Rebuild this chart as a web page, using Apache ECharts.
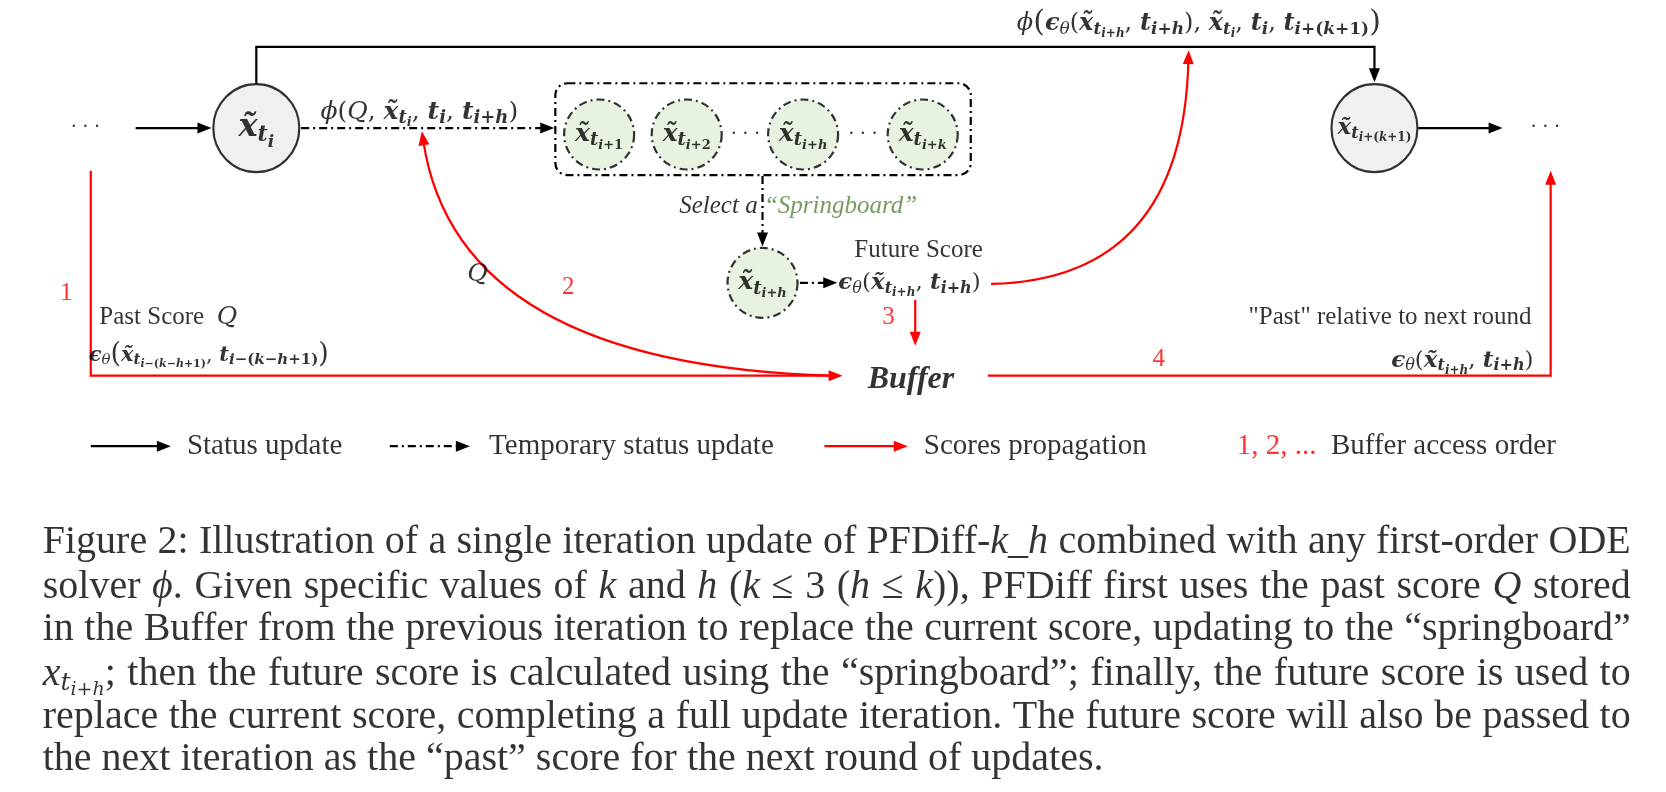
<!DOCTYPE html>
<html>
<head>
<meta charset="utf-8">
<title>PFDiff figure 2</title>
<script src="https://cdn.jsdelivr.net/npm/echarts@6/dist/echarts.min.js"></script>
<style>
html, body { margin: 0; padding: 0; background: #fff; }
#box { width: 1666px; height: 792px; }
</style>
</head>
<body>
<div id="box"></div>
<script>
// figure units: x 0-1560, y 0-742 from the top, stretched over the whole page

// nodes [x, y, label]
var stateNodes = [[240, 120, 'xti'], [1287, 120, 'xtk1']];
var tempNodes = [[561, 126, 'xt1'], [643, 126, 'xt2'], [752, 126, 'xth'], [864, 126, 'xtk']];
var springNodes = [[714, 265, 'xth']];
var tempBox = [[520, 78, 909, 164]];

// arrows, as point lists
var statusLinks = [
	[[127, 120], [198, 120]],
	[[240, 79], [240, 44], [1287, 44], [1287, 77]],
	[[1328, 120], [1407, 120]],
	[[85, 418], [160, 418]]
];
var tempLinks = [
	[[282, 120], [519, 120]],
	[[714, 165], [714, 231]],
	[[749, 265], [784, 265]],
	[[365, 418], [440, 418]]
];
var scoreLinks = [
	[[85, 160], [85, 352], [789, 352]],
	[[857, 281], [857, 324]],
	[[925, 352], [1452, 352], [1452, 160]],
	[[772, 418], [850, 418]]
];
// curved score arrows: start, control, end
var scoreCurves = [
	[[928, 266], [1108, 262], [1113, 47]],
	[[780, 352], [428, 342], [395, 123]]
];

// texts [x, y, key]
var leftNotes = [
	[300, 105, 'phiQ'],
	[636, 193, 'select'],
	[800, 235, 'future'],
	[785, 265, 'epsH'],
	[93, 297, 'past'],
	[83, 333, 'epsPast'],
	[175, 418, 'lgStatus'],
	[458, 418, 'lgTemp'],
	[865, 418, 'lgScore'],
	[1158, 418, 'lgOrder']
];
var rightNotes = [
	[1293, 22, 'phiTop'],
	[1434, 297, 'pastNext'],
	[1436, 338, 'epsH2']
];
var midNotes = [
	[80, 120, 'dots'], [698, 126, 'dots'], [808, 126, 'dots'], [1447, 120, 'dots'],
	[853, 356, 'buffer'], [447, 257, 'Q'],
	[62, 275, 'n1'], [532, 269, 'n2'], [832, 297, 'n3'], [1085, 337, 'n4']
];
var captionLines = [[40, 508, 'c1'], [40, 550, 'c2'], [40, 590, 'c3'], [40, 632, 'c4'], [40, 672, 'c5'], [40, 712, 'c6']];
var captionWidth = 1588;

var SERIF = '"Liberation Serif", "DejaVu Serif", serif';
var MATH = '"DejaVu Serif", serif';
var RED = '#ff0000';
var DASHDOT = [8, 4, 2, 4];

//rich text styles
var RICH = {};
var kinds = [
	// key, size factor, italic, bold, shift factor, colour, family
	['r', 1, 0, 0, 0, '#000', SERIF], ['i', 1, 1, 0, 0, '#000', SERIF], ['B', 1, 1, 1, 0, '#000', SERIF],
	['R', 1, 0, 0, 0, RED, SERIF], ['G', 1, 1, 0, 0, '#548235', SERIF],
	['u', 1, 0, 0, 0, '#000', MATH], ['m', 1, 1, 0, 0, '#000', MATH], ['b', 1, 1, 1, 0, '#000', MATH],
	['s', 0.7, 1, 0, 0.48, '#000', MATH], ['sr', 0.7, 0, 0, 0.48, '#000', MATH],
	['sb', 0.7, 1, 1, 0.48, '#000', MATH], ['srb', 0.7, 0, 1, 0.48, '#000', MATH],
	['ss', 0.52, 1, 0, 0.86, '#000', MATH], ['ssr', 0.52, 0, 0, 0.86, '#000', MATH],
	['ssb', 0.52, 1, 1, 0.86, '#000', MATH], ['ssrb', 0.52, 0, 1, 0.86, '#000', MATH]
];
for (var n = 12; n <= 40; n++) {
	kinds.forEach(function (k) {
		RICH[k[0] + n] = {
			fontFamily: k[6],
			fontSize: Math.round(n * k[1]),
			fontStyle: k[2] ? 'italic' : 'normal',
			fontWeight: k[3] ? 'bold' : 'normal',
			color: k[5],
			lineHeight: Math.round(n * 1.25),
			padding: [Math.round(n * k[4]), 0, 0, 0],
			textBorderWidth: 0
		};
	});
}
function tex(n, parts) {
	return parts.map(function (p) {
		return '{' + p[0] + (p[2] || n) + '|' + p[1] + '}';
	}).join('');
}

var TEXT = {
	xti: tex(32, [['b', 'x̃'], ['sb', 't'], ['ssb', 'i']]),
	xtk1: tex(23, [['b', 'x̃'], ['sb', 't'], ['ssb', 'i'], ['ssrb', '+('], ['ssb', 'k'], ['ssrb', '+1)']]),
	xt1: tex(25, [['b', 'x̃'], ['sb', 't'], ['ssb', 'i'], ['ssrb', '+1']]),
	xt2: tex(25, [['b', 'x̃'], ['sb', 't'], ['ssb', 'i'], ['ssrb', '+2']]),
	xth: tex(25, [['b', 'x̃'], ['sb', 't'], ['ssb', 'i'], ['ssrb', '+'], ['ssb', 'h']]),
	xtk: tex(25, [['b', 'x̃'], ['sb', 't'], ['ssb', 'i'], ['ssrb', '+'], ['ssb', 'k']]),
	phiQ: tex(25, [['m', 'ϕ'], ['u', '('], ['m', 'Q'], ['u', ', '], ['b', 'x̃'], ['sb', 't'], ['ssb', 'i'], ['u', ', '],
		['b', 't'], ['sb', 'i'], ['u', ', '], ['b', 't'], ['sb', 'i'], ['srb', '+'], ['sb', 'h'], ['u', ')']]),
	phiTop: tex(24, [['m', 'ϕ'], ['u', '(', 30], ['b', 'ϵ'], ['s', 'θ'], ['u', '('], ['b', 'x̃'], ['sb', 't'], ['ssb', 'i'], ['ssrb', '+'], ['ssb', 'h'],
		['u', ', '], ['b', 't'], ['sb', 'i'], ['srb', '+'], ['sb', 'h'], ['u', '), '], ['b', 'x̃'], ['sb', 't'], ['ssb', 'i'], ['u', ', '],
		['b', 't'], ['sb', 'i'], ['u', ', '], ['b', 't'], ['sb', 'i'], ['srb', '+('], ['sb', 'k'], ['srb', '+1)'], ['u', ')', 30]]),
	epsH: tex(23, [['b', 'ϵ'], ['s', 'θ'], ['u', '('], ['b', 'x̃'], ['sb', 't'], ['ssb', 'i'], ['ssrb', '+'], ['ssb', 'h'], ['u', ', '],
		['b', 't'], ['sb', 'i'], ['srb', '+'], ['sb', 'h'], ['u', ')']]),
	epsPast: tex(21, [['b', 'ϵ'], ['s', 'θ'], ['u', '(', 27], ['b', 'x̃'], ['sb', 't'], ['ssb', 'i'], ['ssrb', '−('], ['ssb', 'k'], ['ssrb', '−'], ['ssb', 'h'], ['ssrb', '+1)'],
		['u', ', '], ['b', 't'], ['sb', 'i'], ['srb', '−('], ['sb', 'k'], ['srb', '−'], ['sb', 'h'], ['srb', '+1)'], ['u', ')', 27]]),
	past: '{r25|Past Score  }{m25|Q}',
	select: '{i25|Select a }{G25|“Springboard”}',
	future: '{r25|Future Score}',
	pastNext: '{r25|"Past" relative to next round}',
	buffer: '{B32|Buffer}',
	Q: '{m25|Q}',
	dots: '{r20|· · ·}',
	n1: '{R25|1}', n2: '{R25|2}', n3: '{R25|3}', n4: '{R25|4}',
	lgStatus: '{r29|Status update}',
	lgTemp: '{r29|Temporary status update}',
	lgScore: '{r29|Scores propagation}',
	lgOrder: '{R29|1, 2, ...}{r29|  Buffer access order}',
	c1: '{r40|Figure 2: Illustration of a single iteration update of PFDiff-}{i40|k}{r40|_}{i40|h}{r40| combined with any first-order ODE}',
	c2: '{r40|solver }{i40|ϕ}{r40|. Given specific values of }{i40|k}{r40| and }{i40|h}{r40| (}{i40|k}{r40| ≤ 3 (}{i40|h}{r40| ≤ }{i40|k}{r40|)), PFDiff first uses the past score }{i40|Q}{r40| stored}',
	c3: '{r40|in the Buffer from the previous iteration to replace the current score, updating to the “springboard”}',
	c4: '{i40|x}{s36|t}{ss36|i}{ssr36|+}{ss36|h}{r40|; then the future score is calculated using the “springboard”; finally, the future score is used to}',
	c5: '{r40|replace the current score, completing a full update iteration. The future score will also be passed to}',
	c6: '{r40|the next iteration as the “past” score for the next round of updates.}'
};
TEXT.epsH2 = TEXT.epsH;

// spread the words of a caption line over the full caption width
var measure = document.createElement('canvas').getContext('2d');
function fontOf(key) {
	var s = RICH[key];
	return s.fontStyle + ' ' + s.fontWeight + ' ' + s.fontSize + 'px ' + s.fontFamily;
}
function justify(key) {
	var parts = [];
	TEXT[key].replace(/\{(\w+)\|([^}]*)\}/g, function (m, k, t) { parts.push([k, t]); });
	var natural = 0, gaps = 0;
	parts.forEach(function (p) {
		measure.font = fontOf(p[0]);
		natural += measure.measureText(p[1]).width;
		if (p[0] === 'r40') gaps += (p[1].match(/ /g) || []).length;
	});
	measure.font = fontOf('r40');
	var space = measure.measureText(' ').width;
	RICH['gap_' + key] = { width: space + (captionWidth - natural) / gaps, fontSize: 40, fontFamily: SERIF, lineHeight: 50 };
	TEXT[key] = parts.map(function (p) {
		if (p[0] !== 'r40') return '{' + p[0] + '|' + p[1] + '}';
		return p[1].split(' ').map(function (w) { return w ? '{r40|' + w + '}' : ''; }).join('{gap_' + key + '| }');
	}).join('');
}
['c1', 'c2', 'c3', 'c4', 'c5'].forEach(justify);

function head(tip, from, L, W) {
	var dx = tip[0] - from[0], dy = tip[1] - from[1];
	var d = Math.sqrt(dx * dx + dy * dy) || 1;
	var ux = dx / d, uy = dy / d;
	var bx = tip[0] - ux * L, by = tip[1] - uy * L;
	return {
		points: [tip, [bx - uy * W / 2, by + ux * W / 2], [bx + uy * W / 2, by - ux * W / 2]],
		back: [tip[0] - ux * L * 0.7, tip[1] - uy * L * 0.7]
	};
}

function linkSeries(links, color, dash, curved) {
	return {
		type: 'custom',
		coordinateSystem: 'cartesian2d',
		silent: true,
		z: 2,
		data: links.map(function (l) { return [l[0][0], l[0][1]]; }),
		renderItem: function (params, api) {
			var pts = links[params.dataIndex].map(function (p) { return api.coord(p); });
			var last = pts[pts.length - 1], prev = pts[pts.length - 2];
			var h = head(last, prev, 14, 11);
			var line;
			if (curved) {
				line = {
					type: 'bezierCurve',
					shape: { x1: pts[0][0], y1: pts[0][1], cpx1: pts[1][0], cpy1: pts[1][1], x2: h.back[0], y2: h.back[1] },
					style: { fill: 'none', stroke: color, lineWidth: 2.2 }
				};
			} else {
				line = {
					type: 'polyline',
					shape: { points: pts.slice(0, -1).concat([h.back]) },
					style: { fill: 'none', stroke: color, lineWidth: 2.2, lineDash: dash || null }
				};
			}
			return {
				type: 'group',
				children: [line, { type: 'polygon', shape: { points: h.points }, style: { fill: color, stroke: 'none' } }]
			};
		}
	};
}

function nodeSeries(nodes, size, fill, dash) {
	return {
		type: 'scatter',
		silent: true,
		z: 4,
		symbol: 'circle',
		symbolSize: size,
		data: nodes.map(function (d) { return [d[0], d[1]]; }),
		itemStyle: { color: fill, borderColor: '#000', borderWidth: 2.2, borderType: dash || 'solid' },
		label: {
			show: true, position: 'inside', textBorderWidth: 0,
			formatter: function (p) { return TEXT[nodes[p.dataIndex][2]]; },
			rich: RICH
		}
	};
}

function noteSeries(notes, align) {
	return {
		type: 'scatter',
		silent: true,
		z: 6,
		symbolSize: 1,
		itemStyle: { color: 'rgba(0,0,0,0)' },
		data: notes.map(function (d) { return [d[0], d[1]]; }),
		label: {
			show: true, position: 'inside', align: align, verticalAlign: 'middle', textBorderWidth: 0,
			formatter: function (p) { return TEXT[notes[p.dataIndex][2]]; },
			rich: RICH
		}
	};
}

var boxSeries = {
	type: 'custom',
	coordinateSystem: 'cartesian2d',
	silent: true,
	z: 1,
	data: tempBox.map(function (b) { return [b[0], b[1]]; }),
	renderItem: function (params, api) {
		var b = tempBox[params.dataIndex];
		var p1 = api.coord([b[0], b[1]]), p2 = api.coord([b[2], b[3]]);
		return {
			type: 'rect',
			shape: { x: p1[0], y: p1[1], width: p2[0] - p1[0], height: p2[1] - p1[1], r: 12 },
			style: { fill: 'none', stroke: '#000', lineWidth: 2.2, lineDash: DASHDOT }
		};
	}
};

var chart = echarts.init(document.getElementById('box'));
chart.setOption({
	animation: false,
	backgroundColor: '#fff',
	grid: { left: 0, right: 0, top: 0, bottom: 0 },
	xAxis: { type: 'value', min: 0, max: 1560, show: false },
	yAxis: { type: 'value', min: 0, max: 742, inverse: true, show: false },
	series: [
		boxSeries,
		linkSeries(statusLinks, '#000'),
		linkSeries(tempLinks, '#000', DASHDOT),
		linkSeries(scoreLinks, RED),
		linkSeries(scoreCurves, RED, null, true),
		nodeSeries(stateNodes, [86, 88], '#ececec'),
		nodeSeries(tempNodes, 70, '#e2efda', DASHDOT),
		nodeSeries(springNodes, 70, '#e2efda', DASHDOT),
		noteSeries(leftNotes, 'left'),
		noteSeries(rightNotes, 'right'),
		noteSeries(midNotes, 'center'),
		noteSeries(captionLines, 'left')
	]
});
</script>
</body>
</html>
